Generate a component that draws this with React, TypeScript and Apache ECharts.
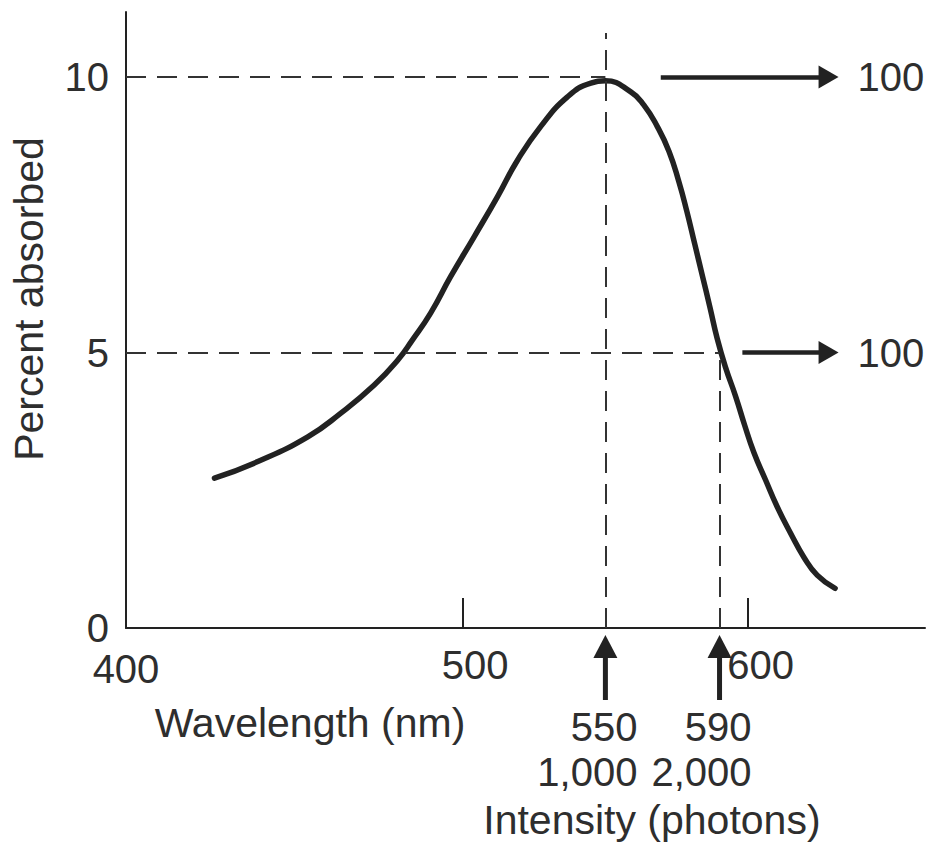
import React, { useEffect, useRef } from 'react';
import * as echarts from 'echarts';

// Absorption curve (wavelength in nm, percent absorbed)
const WAVELENGTH = [413, 428.2, 445.7, 457.3, 469, 477.2, 482.4, 488.8, 495.8, 504, 512.2, 519.2, 527.3, 536.7, 544.9, 550, 558.9, 563.5, 568.2, 572.3, 575.8, 578.5, 581.3, 584.1, 586.6, 589.2, 592.1, 595.6, 598.8, 602, 606.1, 610.2, 614.9, 619.5, 624.2, 630.5];
const ABSORBED = [2.72, 3.02, 3.47, 3.9, 4.41, 4.86, 5.23, 5.72, 6.38, 7.1, 7.83, 8.49, 9.1, 9.64, 9.89, 9.93, 9.73, 9.49, 9.1, 8.65, 8.09, 7.57, 6.97, 6.37, 5.83, 5.25, 4.73, 4.21, 3.68, 3.19, 2.69, 2.2, 1.72, 1.29, 0.96, 0.72];

// Axes
const X_MIN = 382;
const X_MAX = 662;
const Y_MAX = 11.18;
const X_TICKS = [500, 600];
const X_LABEL_VALUES = [X_MIN, 500, 600];
const X_LABELS = ['400', '500', '600'];
const Y_LABEL_VALUES = [0, 5, 10];
const X_TITLE = 'Wavelength (nm)';
const Y_TITLE = 'Percent absorbed';

// Reference lines
const PEAK = [550, 10];
const HALF = [590, 5];
const PEAK_LINE_TOP = 10.8;

// Right-pointing arrows at 10% and 5%
const ARROW_LEVELS = [10, 5];
const ARROW_STARTS = [569.4, 598];
const ARROW_END = 628.2;
const ARROW_LABELS = ['100', '100'];

// Upward arrows under the axis
const MARK_WAVELENGTHS = [550, 590];
const MARK_LABELS = ['550', '590'];
const MARK_PHOTONS = ['1,000', '2,000'];
const INTENSITY_TITLE = 'Intensity (photons)';

const FONT = '"Liberation Sans", Arial, Helvetica, sans-serif';
const INK = '#222';
const TEXT = '#2e2e2e';
const FS = 40;

export default function App() {
  const ref = useRef<HTMLDivElement>(null);

  useEffect(() => {
    const chart = echarts.init(ref.current!, null, { renderer: 'svg' });
    const dash = { type: [20, 11], width: 2, color: '#333' };
    const arrowLine = { type: 'solid', width: 4.5, color: INK };

    const markData: any[] = [
      [{ coord: [X_MIN, PEAK[1]], lineStyle: dash }, { coord: [PEAK[0], PEAK[1]] }],
      [{ coord: [X_MIN, HALF[1]], lineStyle: dash }, { coord: [HALF[0], HALF[1]] }],
      [{ coord: [PEAK[0], 0], lineStyle: dash }, { coord: [PEAK[0], PEAK_LINE_TOP] }],
      [{ coord: [HALF[0], 0], lineStyle: dash }, { coord: [HALF[0], HALF[1]] }],
    ];
    ARROW_LEVELS.forEach((lvl, i) => {
      markData.push([
        {
          coord: [ARROW_STARTS[i], lvl],
          symbol: 'none',
          lineStyle: arrowLine,
          label: {
            show: true,
            formatter: ARROW_LABELS[i],
            position: 'end',
            distance: 29,
            fontSize: FS,
            fontFamily: FONT,
            color: TEXT,
          },
        },
        { coord: [ARROW_END, lvl], symbol: 'triangle', symbolSize: [23, 20] },
      ]);
    });

    const option: any = {
      animation: false,
      backgroundColor: '#fff',
      grid: { left: 125, top: 12, right: 2, bottom: 214, containLabel: false },
      xAxis: {
        type: 'value',
        min: X_MIN,
        max: X_MAX,
        splitLine: { show: false },
        axisLine: { show: true, lineStyle: { color: INK, width: 2 } },
        axisTick: {
          show: true,
          customValues: X_TICKS,
          inside: true,
          length: 30,
          lineStyle: { color: INK, width: 2 },
        },
        axisLabel: {
          customValues: X_LABEL_VALUES,
          margin: 17,
          fontSize: FS,
          fontFamily: FONT,
          color: TEXT,
          formatter: (v: number) => {
            const idx = X_LABEL_VALUES.indexOf(v);
            const txt = idx >= 0 ? X_LABELS[idx] : String(v);
            return idx === 0 ? `{o|${txt}}` : `{s|${txt}}`;
          },
          rich: {
            o: { fontSize: FS, fontFamily: FONT, color: TEXT, padding: [4, 0, 0, 0] },
            s: { fontSize: FS, fontFamily: FONT, color: TEXT, padding: [0, 0, 0, 25] },
          },
        },
      },
      yAxis: {
        type: 'value',
        min: 0,
        max: Y_MAX,
        name: Y_TITLE,
        nameLocation: 'middle',
        nameGap: 77,
        nameTextStyle: { fontSize: 41, fontFamily: FONT, color: TEXT, padding: [0, 0, 0, 42] },
        splitLine: { show: false },
        axisLine: { show: true, lineStyle: { color: INK, width: 2 } },
        axisTick: { show: false },
        axisLabel: {
          customValues: Y_LABEL_VALUES,
          margin: 17,
          fontSize: FS,
          fontFamily: FONT,
          color: TEXT,
        },
      },
      series: [
        {
          type: 'line',
          data: WAVELENGTH.map((w, i) => [w, ABSORBED[i]]),
          smooth: 0.5,
          symbol: 'none',
          lineStyle: { color: INK, width: 5.5, cap: 'round', join: 'round' },
          markLine: {
            silent: true,
            symbol: 'none',
            label: { show: false },
            data: markData,
          },
        },
      ],
    };
    chart.setOption(option);

    const finder = { xAxisIndex: 0, yAxisIndex: 0 };
    const tStyle = { fontSize: FS, fontFamily: FONT, fill: TEXT, verticalAlign: 'middle' };
    const graphics: any[] = [];
    const xs: number[] = [];
    let y0 = 0;
    MARK_WAVELENGTHS.forEach((wl, i) => {
      const p = chart.convertToPixel(finder as any, [wl, 0]) as number[];
      const x = p[0];
      y0 = p[1];
      xs.push(x);
      graphics.push(
        { type: 'line', shape: { x1: x, y1: y0 + 26, x2: x, y2: y0 + 72 }, style: { stroke: INK, lineWidth: 5 } },
        {
          type: 'polygon',
          shape: { points: [[x, y0 + 7], [x - 12, y0 + 30], [x + 12, y0 + 30]] },
          style: { fill: INK },
        },
        { type: 'text', x: x + 32, y: y0 + 99, style: { ...tStyle, text: MARK_LABELS[i], align: 'right' } },
        { type: 'text', x: x + 32, y: y0 + 144, style: { ...tStyle, text: MARK_PHOTONS[i], align: 'right' } },
      );
    });
    graphics.push({
      type: 'text',
      x: xs[1] + 101,
      y: y0 + 192,
      style: { ...tStyle, text: INTENSITY_TITLE, align: 'right', fontSize: 41 },
    });
    graphics.push({
      type: 'text',
      x: 310,
      y: y0 + 95,
      style: { ...tStyle, text: X_TITLE, align: 'center', fontSize: 41 },
    });
    chart.setOption({ graphic: graphics });

    return () => chart.dispose();
  }, []);

  return <div ref={ref} style={{ position: 'absolute', left: 0, top: 0, width: 927, height: 842 }} />;
}
